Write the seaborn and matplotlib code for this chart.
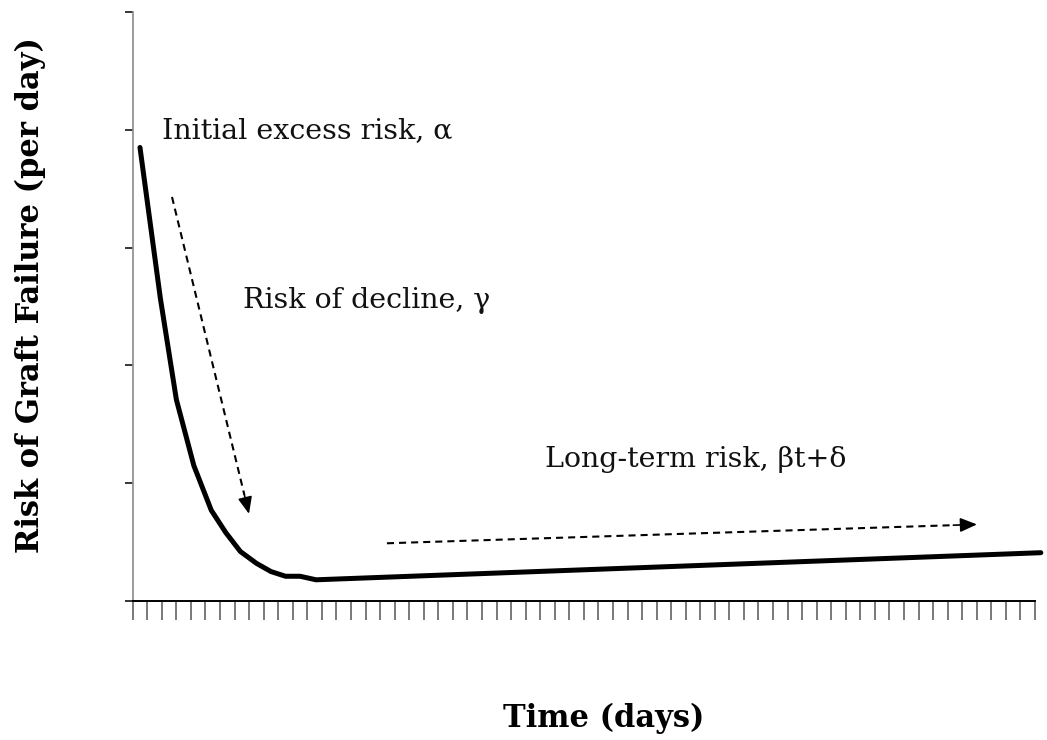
import numpy as np
import pandas as pd
import matplotlib
matplotlib.use("Agg")
import matplotlib.pyplot as plt
import seaborn as sns

# Hazard curve: steep early decline, then slow linear rise
days = [0.5, 1.9, 3.0, 4.2, 5.4, 6.4, 7.4, 8.5, 9.5, 10.5, 11.5, 12.6, 62.4]
risk = [3.85, 2.57, 1.71, 1.15, 0.77, 0.58, 0.42, 0.32, 0.25, 0.21, 0.21, 0.18, 0.41]

# Dashed guide arrows (start, end)
decline_arrow = [(2.70, 3.43), (7.99, 0.74)]
longterm_arrow = [(17.47, 0.49), (58.01, 0.65)]

# Annotation texts with their anchor (left, baseline)
labels = ["Initial excess risk, \u03b1", "Risk of decline, \u03b3", "Long-term risk, \u03b2t+\u03b4"]
label_x = [2.01, 7.58, 28.33]
label_y = [3.93, 2.49, 1.14]

n_ticks = 62
y_ticks = [0, 1, 2, 3, 4, 5]

sns.set_theme(style="white")
plt.rcParams["font.family"] = ["DejaVu Serif", "Liberation Serif"]

fig = plt.figure(figsize=(10.47, 7.40), dpi=100)
ax = fig.add_axes([132.7 / 1047, 1 - 601 / 740, (1035 - 132.7) / 1047, (601 - 12) / 740])

df = pd.DataFrame({"day": days, "risk": risk})
sns.lineplot(data=df, x="day", y="risk", ax=ax, color="black", linewidth=3.6,
             sort=False, estimator=None)
for line in ax.lines:
    line.set_clip_on(False)
    line.set_solid_joinstyle("round")

def dashed_arrow(p0, p1):
    (x0, y0), (x1, y1) = p0, p1
    # shaft stops a little before the tip; the head is drawn solid
    f = 0.96 if abs(x1 - x0) > 10 else 0.94
    xm, ym = x0 + (x1 - x0) * f, y0 + (y1 - y0) * f
    ax.plot([x0, xm], [y0, ym], color="black", linewidth=1.5, linestyle=(0, (3.4, 2.4)))
    ax.annotate("", xy=(x1, y1), xytext=(xm, ym),
                arrowprops=dict(arrowstyle="-|>,head_length=0.85,head_width=0.36",
                                color="black", linewidth=1.2, shrinkA=0, shrinkB=0))

dashed_arrow(*decline_arrow)
dashed_arrow(*longterm_arrow)

for txt, x, y in zip(labels, label_x, label_y):
    ax.text(x, y, txt, fontsize=20.5, color="#111111", ha="left", va="baseline")

ax.set_xlim(0, n_ticks)
ax.set_ylim(0, 5)
ax.set_xticks(np.arange(0, n_ticks + 1))
ax.set_yticks(y_ticks)
ax.set_xticklabels([])
ax.set_yticklabels([])
ax.set_xlabel("")
ax.set_ylabel("")

for side in ["top", "right"]:
    ax.spines[side].set_visible(False)
ax.spines["left"].set_color("#8a8a8a")
ax.spines["left"].set_linewidth(1.2)
ax.spines["bottom"].set_color("black")
ax.spines["bottom"].set_linewidth(1.4)
ax.tick_params(axis="x", direction="out", length=14, width=1.1, color="#555555", bottom=True)
ax.tick_params(axis="y", direction="out", length=6, width=1.1, color="black", left=True)

fig.text(603.5 / 1047, 1 - 727 / 740, "Time (days)", fontsize=22, fontweight="bold",
         ha="center", va="baseline", color="black")
fig.text(30 / 1047, 1 - 295 / 740, "Risk of Graft Failure (per day)", fontsize=22,
         fontweight="bold", rotation=90, ha="center", va="center", color="black")

fig.savefig("out.png", dpi=100, facecolor="white")
